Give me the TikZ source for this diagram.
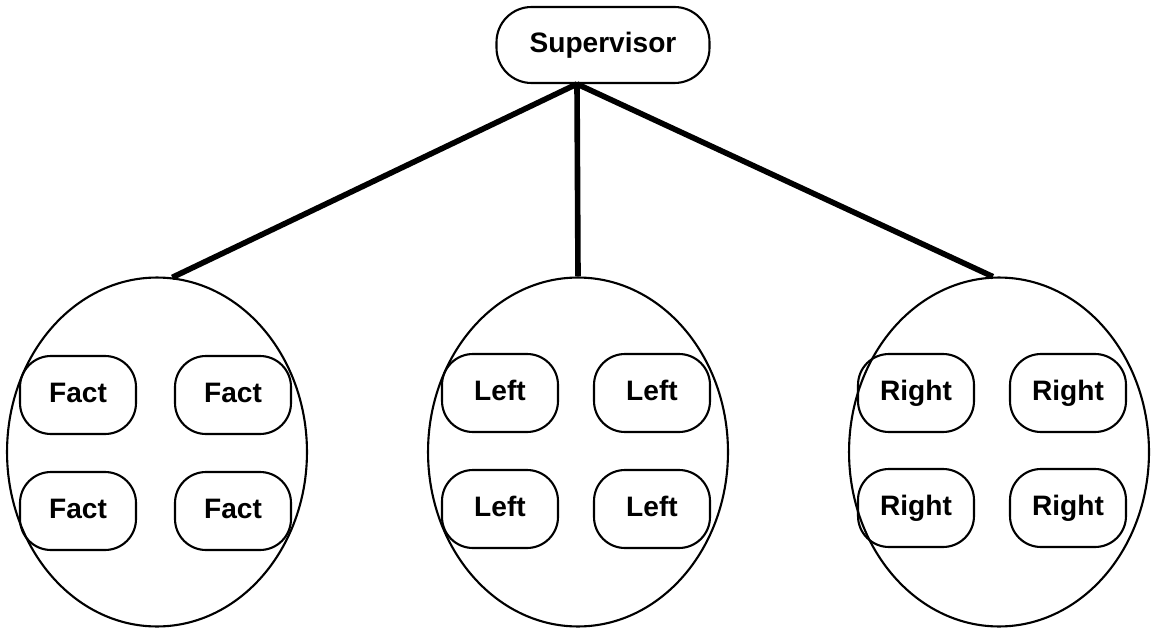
\documentclass[tikz,border=0pt]{standalone}
\usepackage{fontspec}
\setmainfont{Liberation Sans}
\usepackage{tikz}
\usetikzlibrary{shapes.geometric}
\tikzstyle{chief}=[draw, line width=1.2pt, rounded corners=0.7cm, minimum width=4.26cm, minimum height=1.52cm, text height=1em, text depth=0.2em, font=\fontsize{16}{19}\selectfont\bfseries]
\tikzstyle{group}=[draw, ellipse, line width=1.2pt, inner sep=0pt, minimum width=6cm, minimum height=6.98cm]
\tikzstyle{member}=[draw, line width=1.2pt, rounded corners=0.62cm, minimum width=2.32cm, minimum height=1.56cm, text height=1em, text depth=0.2em, font=\fontsize{16}{19}\selectfont\bfseries]
\tikzstyle{link}=[line width=3.2pt]

\begin{document}
\begin{tikzpicture}[x=0.02cm, y=-0.02cm]
\useasboundingbox (0,0) rectangle (1152,628);
\node[chief] (sup) at (603,45) {Supervisor};
\coordinate (hub) at (577,84);
\node[group] (gF) at (157,452) {};
\node[group] (gL) at (578,452) {};
\node[group] (gR) at (999,452) {};
\foreach \g/\t/\xa/\xb/\ya/\yb in {F/Fact/78/233/395/511, L/Left/500/652/393/509, R/Right/916/1068/393/508}
{
  \node[member] (\g1) at (\xa,\ya) {\t};
  \node[member] (\g2) at (\xb,\ya) {\t};
  \node[member] (\g3) at (\xa,\yb) {\t};
  \node[member] (\g4) at (\xb,\yb) {\t};
}
\foreach \t in {gF.85, gL.north, gR.92}
  \draw[link] (hub) -- (\t);
\end{tikzpicture}
\end{document}
